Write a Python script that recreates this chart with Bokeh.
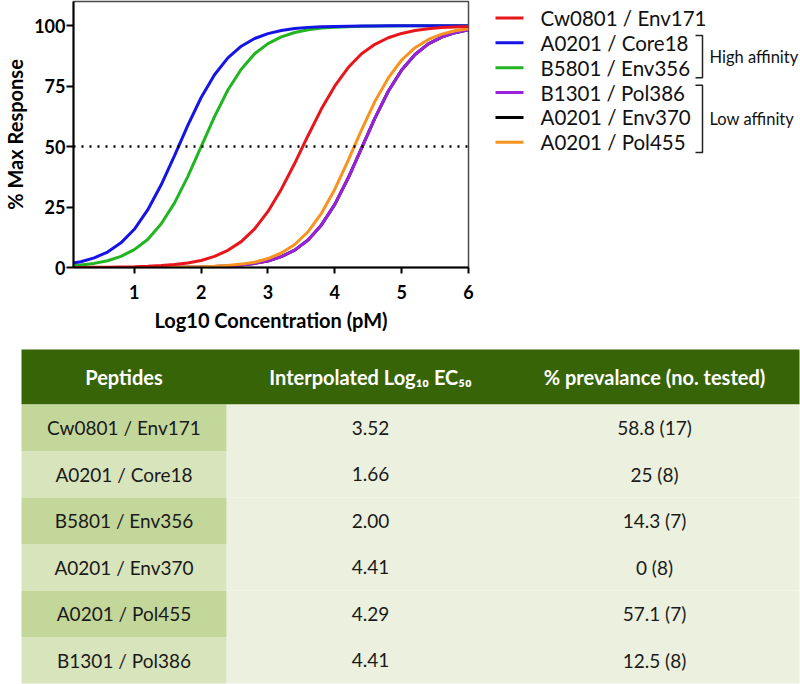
from bokeh.plotting import figure
from bokeh.layouts import column, row
from bokeh.models import Range1d, Span, FixedTicker
from bokeh.core.properties import value
from bokeh.embed import file_html
from bokeh.resources import INLINE

# ---------------- data ----------------
log_conc = [0.0, 0.2, 0.4, 0.6, 0.8, 1.0, 1.2, 1.4, 1.6, 1.8, 2.0, 2.2, 2.4, 2.6, 2.8,
            3.0, 3.2, 3.4, 3.6, 3.8, 4.0, 4.2, 4.4, 4.6, 4.8, 5.0, 5.2, 5.4, 5.6, 5.8, 6.0]

cw0801_env171 = [0.0, 0.05, 0.1, 0.1, 0.2, 0.3, 0.5, 0.8, 1.2, 1.9, 2.9, 4.6, 7.1, 10.7, 16.0,
                 23.2, 32.4, 43.1, 54.6, 65.6, 75.1, 82.7, 88.4, 92.3, 95.0, 96.8, 98.0, 98.7, 99.2, 99.5, 99.7]
a0201_core18 = [1.5, 2.4, 4.0, 6.4, 10.2, 15.8, 23.8, 34.1, 46.2, 58.8, 70.3, 79.7, 86.7, 91.5, 94.7,
                96.7, 98.0, 98.8, 99.3, 99.6, 99.7, 99.8, 99.9, 99.9, 100, 100, 100, 100, 100, 100, 100]
b5801_env356 = [0.6, 1.0, 1.7, 2.8, 4.6, 7.4, 11.6, 18.0, 26.6, 37.6, 50.0, 62.4, 73.4, 82.0, 88.4,
                92.6, 95.4, 97.2, 98.3, 99.0, 99.4, 99.6, 99.8, 99.9, 99.9, 100, 100, 100, 100, 100, 100]
b1301_pol386 = [0.0, 0.0, 0.0, 0.0, 0.01, 0.02, 0.03, 0.05, 0.08, 0.1, 0.2, 0.4, 0.6, 1.0, 1.7,
                2.7, 4.5, 7.2, 11.4, 17.6, 26.1, 37.0, 49.4, 61.8, 72.9, 81.7, 88.1, 92.5, 95.3, 97.1, 98.3]
a0201_env370 = [0.0, 0.0, 0.0, 0.0, 0.01, 0.02, 0.03, 0.05, 0.08, 0.1, 0.2, 0.4, 0.6, 1.0, 1.7,
                2.7, 4.5, 7.2, 11.4, 17.6, 26.1, 37.0, 49.4, 61.8, 72.9, 81.7, 88.1, 92.5, 95.3, 97.1, 98.3]
a0201_pol455 = [0.0, 0.0, 0.0, 0.0, 0.01, 0.02, 0.04, 0.07, 0.1, 0.2, 0.3, 0.5, 0.8, 1.4, 2.2,
                3.7, 6.0, 9.5, 14.8, 22.4, 32.4, 44.3, 56.9, 68.7, 78.4, 85.8, 90.9, 94.3, 96.5, 97.9, 98.7]

series_names = ["Cw0801 / Env171", "A0201 / Core18", "B5801 / Env356",
                "B1301 / Pol386", "A0201 / Env370", "A0201 / Pol455"]
series_values = [cw0801_env171, a0201_core18, b5801_env356,
                 b1301_pol386, a0201_env370, a0201_pol455]
series_colors = ["#e8161b", "#1414e6", "#22b522", "#9b22dd", "#000000", "#f7931e"]
draw_order = [4, 3, 5, 2, 1, 0]

x_ticks = [1, 2, 3, 4, 5, 6]
y_ticks = [0, 25, 50, 75, 100]
half_max = 50

group_names = ["High affinity", "Low affinity"]
group_first = [1, 3]
group_last = [2, 5]

table_header = ["Peptides", "Interpolated Log\u2081\u2080 EC\u2085\u2080", "% prevalance (no. tested)"]
table_peptides = ["Cw0801 / Env171", "A0201 / Core18", "B5801 / Env356",
                  "A0201 / Env370", "A0201 / Pol455", "B1301 / Pol386"]
table_ec50 = [3.52, 1.66, 2.00, 4.41, 4.29, 4.41]
table_prevalence = [58.8, 25, 14.3, 0, 57.1, 12.5]
table_tested = [17, 8, 7, 8, 7, 8]

# ---------------- layout constants (pixels) ----------------
W = 800
TOP_H = 340
TABLE_H = 344
CHART_W = 478
FR_L, FR_R, FR_T, FR_B = 67, 468, 1, 267
X0, X1 = 0.09, 6.0
Y0, Y1 = 0, 110
FONT = "Lato"

# ---------------- dose-response chart ----------------
p = figure(width=CHART_W, height=TOP_H, x_range=Range1d(X0, X1), y_range=Range1d(Y0, Y1),
           output_backend="svg", toolbar_location=None,
           min_border_left=FR_L, min_border_right=CHART_W - FR_R,
           min_border_top=FR_T, min_border_bottom=TOP_H - FR_B)
p.background_fill_color = "white"
p.border_fill_color = "white"
p.outline_line_color = "#4a4a4a"
p.outline_line_width = 1.5
p.xgrid.visible = False
p.ygrid.visible = False

for ax in (p.xaxis[0], p.yaxis[0]):
    ax.axis_line_color = "black"
    ax.axis_line_width = 2
    ax.major_tick_line_color = "black"
    ax.major_tick_line_width = 2
    ax.major_tick_in = 0
    ax.minor_tick_line_color = None
    ax.major_label_text_font = FONT
    ax.major_label_text_font_style = "bold"
    ax.major_label_text_font_size = "18px"
    ax.major_label_text_color = "black"
    ax.axis_label_text_font = FONT
    ax.axis_label_text_font_style = "bold"
    ax.axis_label_text_font_size = "20px"
    ax.axis_label_text_color = "black"

p.xaxis.ticker = FixedTicker(ticks=x_ticks)
p.yaxis.ticker = FixedTicker(ticks=y_ticks)
p.xaxis.major_tick_out = 6
p.yaxis.major_tick_out = 7
p.xaxis.major_label_standoff = 11
p.yaxis.major_label_standoff = 1
p.xaxis.axis_label = "Log10 Concentration (pM)"
p.yaxis.axis_label = "% Max Response"
p.xaxis.axis_label_standoff = 6
p.yaxis.axis_label_standoff = 4

p.add_layout(Span(location=half_max, dimension="width", line_color="black",
                  line_width=2.5, line_dash="2 6"))

for i in draw_order:
    p.line(log_conc, series_values[i], line_color=series_colors[i], line_width=3)

# ---------------- legend panel ----------------
LEG_W = W - CHART_W
lg = figure(width=LEG_W, height=TOP_H, x_range=Range1d(CHART_W, W), y_range=Range1d(TOP_H, 0),
            output_backend="svg", toolbar_location=None, x_axis_type=None, y_axis_type=None,
            min_border=0)
lg.outline_line_color = None
lg.xgrid.visible = False
lg.ygrid.visible = False
lg.background_fill_color = "white"
lg.border_fill_color = "white"

ROW0, ROW_STEP = 21, 31.8
SW_L, SW_R, TXT_X = 495, 523, 540
k = len(series_names)
row_y = [ROW0 + j * ROW_STEP for j in range(k)]
lg.segment(x0=[SW_L] * k, y0=row_y, x1=[SW_R] * k, y1=row_y, line_color=series_colors, line_width=3)
lg.text(x=[TXT_X] * k, y=row_y, text=series_names, text_align="left", text_baseline="middle",
        text_font=value(FONT), text_font_size=value("20.5px"), text_color="#111111")

BX, TICK = 702, 7
br_xs, br_ys, lab_y = [], [], []
for first, last in zip(group_first, group_last):
    top = row_y[first] - 9.5
    bot = row_y[last] + 13
    br_xs.append([BX - TICK, BX, BX, BX - TICK])
    br_ys.append([top, top, bot, bot])
    lab_y.append((top + bot) / 2)
lg.multi_line(xs=br_xs, ys=br_ys, line_color="#222222", line_width=1.5)
lg.text(x=[BX + 7] * len(group_names), y=lab_y, text=group_names, text_align="left",
        text_baseline="middle", text_font=value(FONT), text_font_size=value("16.5px"),
        text_color="#111111")

# ---------------- table ----------------
t = figure(width=W, height=TABLE_H, x_range=Range1d(0, W), y_range=Range1d(TABLE_H, 0),
           output_backend="svg", toolbar_location=None, x_axis_type=None, y_axis_type=None,
           min_border=0)
t.outline_line_color = None
t.xgrid.visible = False
t.ygrid.visible = False
t.background_fill_color = "white"
t.border_fill_color = "white"

T_L, T_R = 21, 799
COL1_R = 226
HEAD_T, HEAD_B = 9, 64
ROW = 46.5
col_centers = [123.5, 370, 654]
n = len(table_peptides)
row_tops = [HEAD_B + j * ROW for j in range(n)]
row_bots = [HEAD_B + (j + 1) * ROW for j in range(n)]

t.quad(left=[T_L], right=[T_R], top=[HEAD_T], bottom=[HEAD_B], fill_color="#386408", line_color=None)
t.quad(left=[COL1_R] * n, right=[T_R] * n, top=row_tops, bottom=row_bots,
       fill_color="#ebf1de", line_color=None)
t.quad(left=[T_L] * n, right=[COL1_R] * n, top=row_tops, bottom=row_bots,
       fill_color=["#c4d79b" if j % 2 == 0 else "#d8e4bc" for j in range(n)], line_color=None)

t.text(x=col_centers, y=[(HEAD_T + HEAD_B) / 2] * 3, text=table_header,
       text_align="center", text_baseline="middle", text_font=value(FONT),
       text_font_style="bold", text_font_size=value("20px"), text_color="white")

row_mid = [(a + b) / 2 for a, b in zip(row_tops, row_bots)]
cells = (table_peptides,
         [f"{v:.2f}" for v in table_ec50],
         [f"{v:g} ({m})" for v, m in zip(table_prevalence, table_tested)])
for c, col_text in enumerate(cells):
    t.text(x=[col_centers[c]] * n, y=row_mid, text=col_text,
           text_align="center", text_baseline="middle", text_font=value(FONT),
           text_font_size=value("19px"), text_color="#1a1a1a")

layout = column(row(p, lg, spacing=0), t, spacing=0)

open("out.html", "w").write(file_html(layout, INLINE))
